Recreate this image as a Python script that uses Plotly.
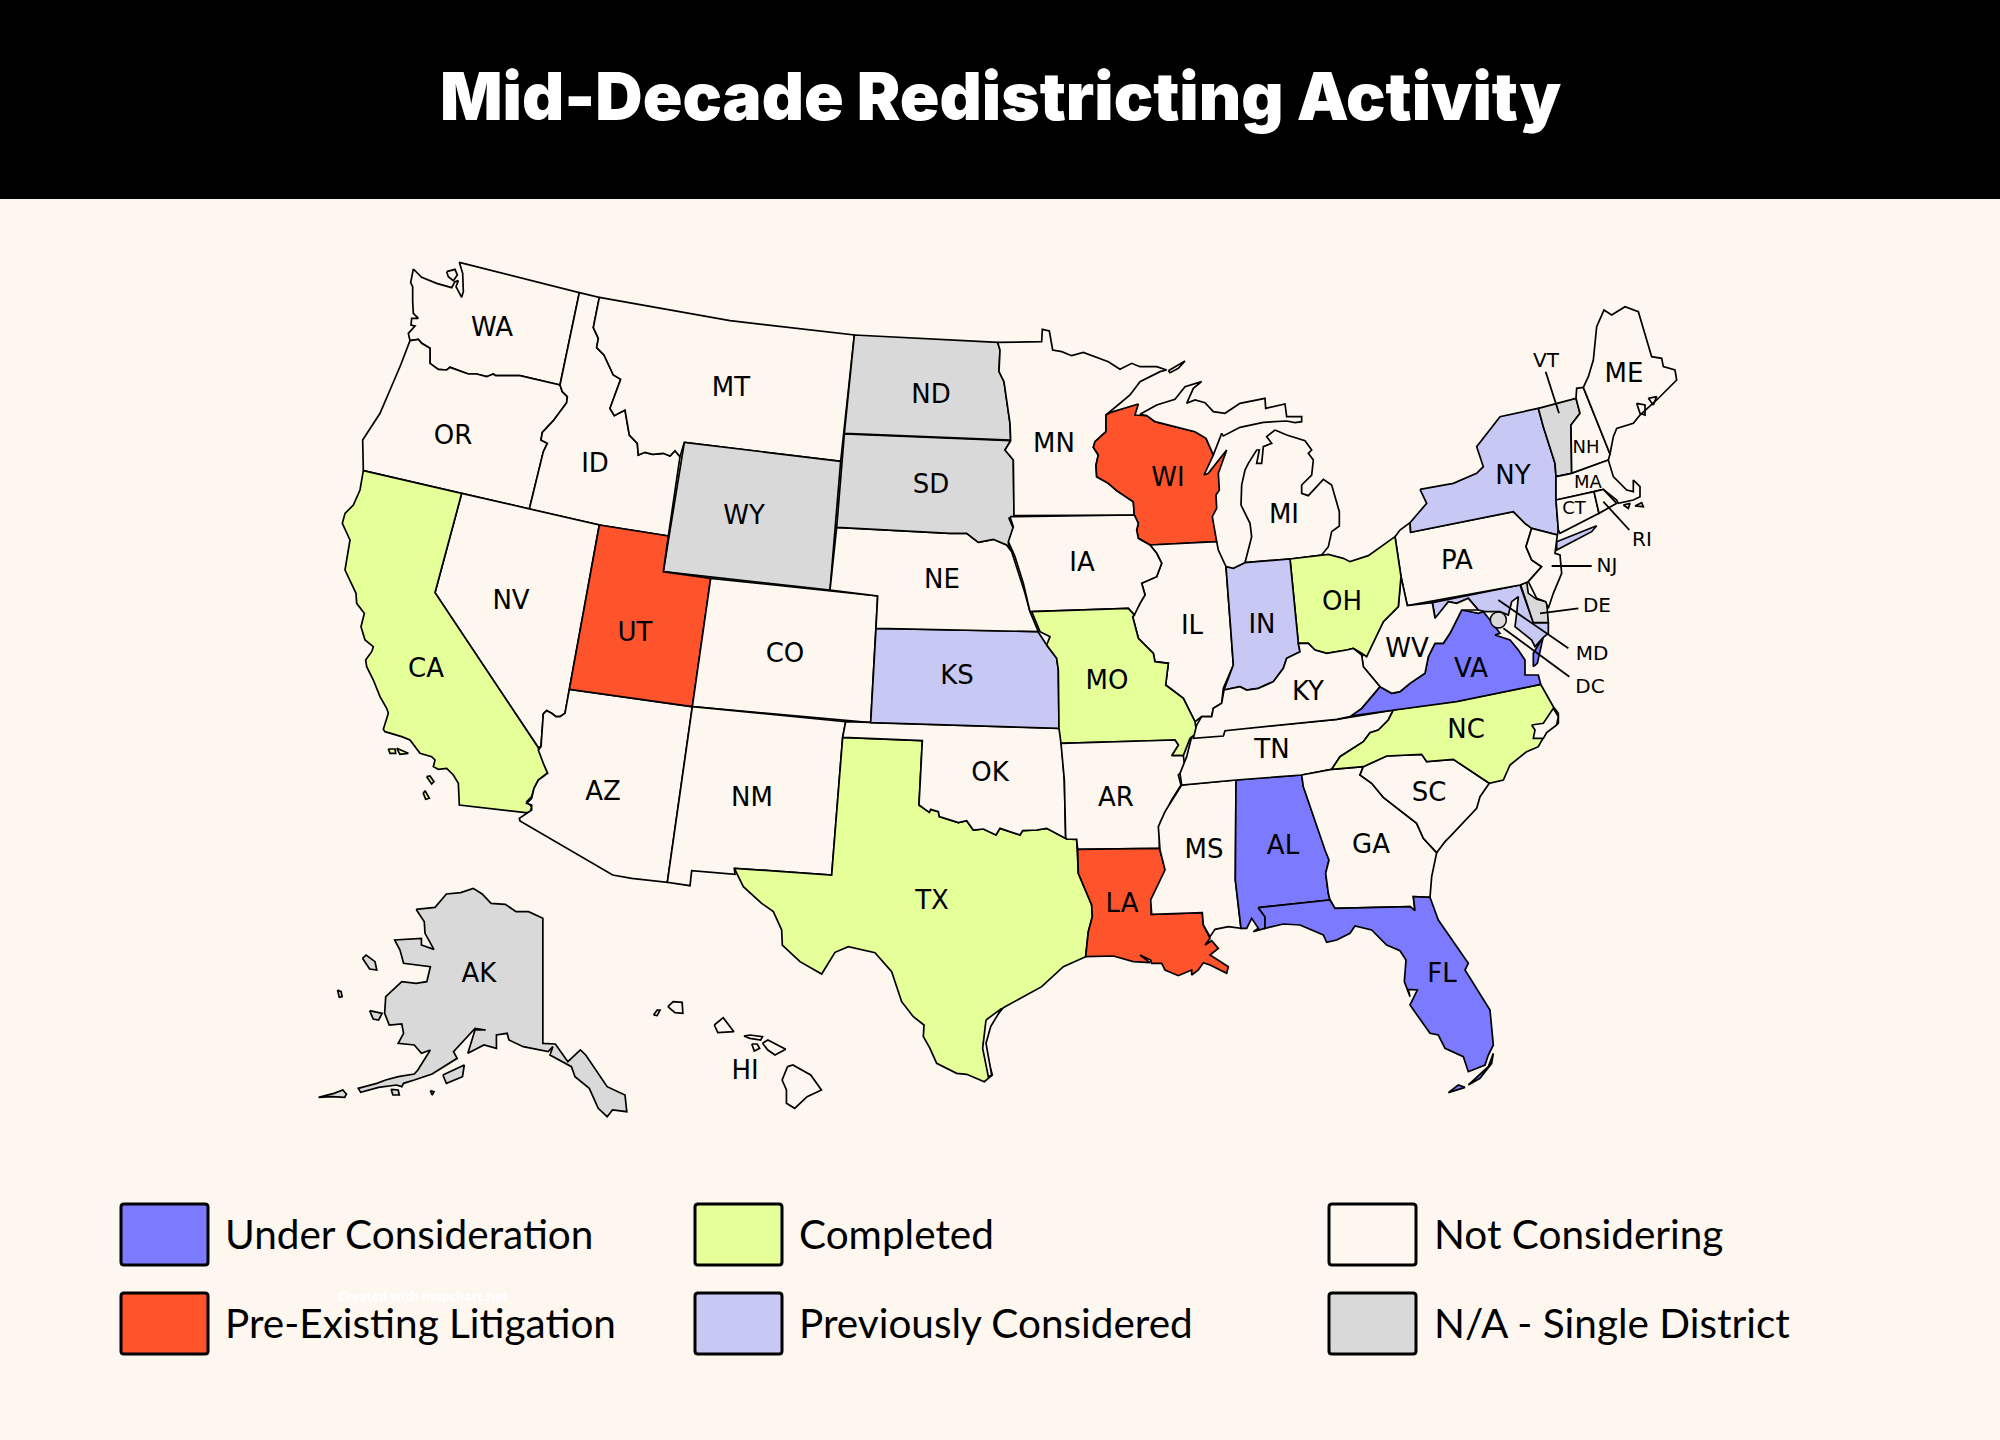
import plotly.graph_objects as go

# ---------- categories ----------
UNDER_CONSIDERATION = ["VA", "AL", "FL"]
PRE_EXISTING_LITIGATION = ["UT", "WI", "LA"]
COMPLETED = ["CA", "TX", "MO", "NC", "OH"]
PREVIOUSLY_CONSIDERED = ["NY", "IN", "KS", "MD"]
SINGLE_DISTRICT = ["WY", "ND", "SD", "VT", "AK", "DE"]

BG = "#FDF7EF"
LEGEND_LABELS = [["Under Consideration", "Pre-Existing Litigation"],
                 ["Completed", "Previously Considered"],
                 ["Not Considering", "N/A - Single District"]]
LEGEND_COLORS = [["#7C7AFF", "#FF542B"], ["#E5FF99", "#C8C8F5"], [BG, "#D9D9D9"]]
LEGEND_BOX_X = [121, 695, 1329]
LEGEND_TEXT_X = [223, 797, 1432]
LEGEND_ROW_Y = [1204, 1293]

COLOR_OF = {}
for names, col in [(UNDER_CONSIDERATION, "#7C7AFF"), (PRE_EXISTING_LITIGATION, "#FF542B"),
                   (COMPLETED, "#E5FF99"), (PREVIOUSLY_CONSIDERED, "#C8C8F5"),
                   (SINGLE_DISTRICT, "#D9D9D9")]:
    for n in names:
        COLOR_OF[n] = col

# ---------- outlines: (origin x, origin y, scale x, scale y) ----------
A = (330, 250, 3, 3); B = (330, 620, 3, 3); C = (700, 640, 3, 3); D = (1000, 320, 3, 3)
E = (1130, 680, 3, 3); F = (300, 870, 2.8, 3); G = (700, 320, 3, 3); H = (1400, 300, 3, 3)

WA = (A, [[(250,57),(275,82),(320,100),(365,113),(375,95),(385,92),(378,110),(395,142),(400,125),(398,70),(388,37),(748,128),(690,405),(570,377),(497,377),(490,372),(470,380),(440,372),(415,372),(360,352),(350,360),(325,358),(300,340),(300,295),(275,280),(265,268),(240,272),(235,250),(255,228),(243,225),(245,205),(265,205),(250,190),(248,155),(248,110),(242,98)],
          [(350,65),(375,58),(382,75),(370,92),(355,80)]])
OR = (A, [[(240,272),(265,268),(275,280),(300,295),(300,340),(325,358),(350,360),(360,352),(415,372),(440,372),(470,380),(490,372),(497,377),(570,377),(690,405),(697,425),(712,440),(710,458),(670,512),(637,547),(633,570),(652,580),(640,605),(598,777),(395,730),(100,662),(98,570),(150,490),(180,420),(212,345)]])
ID = (A, [[(748,128),(808,142),(790,233),(805,265),(800,293),(822,315),(850,375),(872,388),(840,475),(853,497),(885,480),(898,555),(922,580),(925,615),(945,607),(968,613),(1000,610),(1020,618),(1035,602),(1050,620),(1015,858),(808,825),(598,777),(640,605),(652,580),(633,570),(637,547),(670,512),(710,458),(712,440),(697,425),(690,405)]])
MT = (A, [[(808,142),(1200,212),(1573,255),(1532,634),(1063,577),(1050,620),(1035,602),(1020,618),(1000,610),(968,613),(945,607),(925,615),(922,580),(898,555),(885,480),(853,497),(840,475),(872,388),(850,375),(822,315),(800,293),(805,265),(790,233)]])
WY = (A, [[(1063,577),(1532,634),(1500,1020),(1000,965)]])
NV = (A, [[(395,730),(598,777),(808,825),(718,1318),(705,1390),(690,1400),(678,1400),(665,1390),(650,1382),(640,1392),(633,1490),(625,1493),(315,1028)]])
CA = (A, [[(100,662),(395,730),(315,1028),(625,1493),(628,1505),(640,1530),(653,1568),(625,1590),(612,1615),(605,1640),(590,1655),(605,1670),(600,1688),(587,1688),(388,1665),(385,1600),(370,1575),(350,1555),(325,1558),(310,1550),(315,1530),(305,1520),(270,1510),(240,1470),(215,1460),(190,1452),(165,1445),(160,1438),(175,1390),(170,1375),(150,1340),(130,1290),(110,1250),(107,1230),(125,1205),(130,1190),(105,1170),(93,1130),(103,1090),(80,1060),(78,1030),(45,960),(55,905),(60,870),(37,820),(45,790),(70,765),(90,720)],
          [(175,1497),(195,1497),(197,1510),(180,1510)],[(200,1495),(235,1510),(210,1513)],
          [(290,1580),(300,1578),(312,1595),(305,1602)],[(285,1622),(298,1645),(287,1648),(280,1630)]])
AZ = (B, [[(718,208),(1087,260),(1012,787),(905,775),(848,765),(570,603),(568,595),(583,585),(605,570),(605,555),(590,550),(605,535),(612,505),(625,480),(653,460),(640,430),(625,390),(633,380),(640,282),(650,272),(665,280),(678,290),(690,290),(705,280)]])
UT = (A, [[(808,825),(1015,858),(1000,965),(1142,985),(1087,1370),(718,1318)]])
CO = (A, [[(1142,985),(1643,1038),(1622,1418),(1087,1370)]])
NM = (B, [[(1087,260),(1547,305),(1538,352),(1505,765),(1213,745),(1215,763),(1085,752),(1080,797),(1012,787)]])
TX = (C, [[(428,292),(667,302),(657,495),(688,517),(692,508),(715,515),(718,530),(775,548),(800,542),(820,570),(850,567),(888,585),(900,565),(960,585),(968,572),(1010,570),(1040,565),(1100,597),(1130,598),(1135,700),(1175,795),(1177,830),(1165,875),(1157,950),(1090,980),(1025,1040),(910,1103),(870,1150),(850,1210),(877,1305),(853,1325),(800,1303),(770,1300),(710,1270),(690,1225),(670,1190),(672,1155),(640,1130),(605,1085),(575,995),(525,938),(445,920),(405,937),(365,1002),(300,965),(247,915),(245,870),(220,815),(185,790),(130,740),(103,685),(395,705)]])
TX_LAGOON = (C, [[(858,1140),(905,1105),(872,1160),(858,1210),(875,1305),(865,1310),(848,1225),(855,1170)]])
OK = (C, [[(437,245),(1080,265),(1085,315),(1093,420),(1097,592),(1100,597),(1040,565),(1010,570),(968,572),(960,585),(900,565),(888,585),(850,567),(820,570),(800,542),(775,548),(718,530),(715,515),(692,508),(688,517),(657,495),(667,302),(428,292)]])
KS = (C, [[(528,-35),(1014,-25),(1040,15),(1070,55),(1075,90),(1077,265),(512,248)]])
NE = (G, [[(410,622),(750,640),(800,640),(835,667),(880,658),(920,675),(935,695),(960,770),(975,820),(990,875),(1015,935),(528,925),(533,828),(390,810)]])
SD = (G, [[(433,342),(932,362),(915,390),(940,420),(942,590),(927,595),(940,625),(925,670),(937,695),(920,675),(880,658),(835,667),(800,640),(750,640),(410,622)]])
ND = (G, [[(463,45),(893,67),(900,90),(897,155),(912,185),(930,310),(932,360),(433,340)]])
MN = (D, [[(-7,67),(125,65),(127,28),(148,33),(158,90),(185,95),(215,107),(250,97),(325,125),(360,148),(395,130),(420,140),(470,140),(500,150),(480,155),(420,185),(390,225),(330,275),(318,285),(318,335),(285,365),(280,382),(295,405),(288,435),(290,470),(325,490),(350,512),(400,545),(403,585),(42,587),(40,420),(15,390),(32,362),(30,310),(12,185),(-3,155),(0,90)],
          [(505,152),(555,123),(535,145),(510,158)]])
WI = (D, [[(330,278),(415,252),(405,285),(440,287),(465,305),(585,335),(618,355),(640,405),(612,465),(625,460),(680,390),(655,460),(658,510),(648,525),(650,565),(637,590),(650,665),(450,675),(415,655),(410,630),(415,610),(403,585),(400,545),(350,512),(325,490),(290,470),(288,435),(295,405),(280,382),(285,365),(318,335),(318,285)]])
MI = (D, [[(420,283),(470,255),(525,238),(555,200),(605,185),(580,205),(560,250),(585,240),(615,248),(640,275),(675,280),(720,250),(795,235),(797,265),(855,252),(860,290),(905,290),(905,305),(885,308),(860,303),(790,307),(720,322),(670,348),(665,340),(640,405),(618,355),(585,335),(465,305),(440,287)],
          [(825,330),(860,345),(915,362),(935,390),(925,400),(940,420),(935,465),(905,495),(905,520),(925,527),(970,478),(995,495),(1018,575),(1018,618),(995,635),(985,680),(965,705),(870,717),(735,728),(755,650),(750,610),(723,555),(725,495),(735,450),(745,430),(770,390),(778,390),(770,430),(785,430),(790,380),(815,370),(800,350)]])
IL = (D, [[(450,675),(650,665),(655,690),(678,740),(692,925),(700,1035),(670,1105),(665,1150),(640,1165),(635,1190),(605,1190),(585,1205),(565,1165),(550,1135),(497,1095),(505,1030),(465,1025),(460,1000),(415,955),(398,890),(420,850),(435,825),(425,790),(470,770),(485,730),(470,700)]])
IA = (D, [[(30,590),(403,585),(415,610),(410,630),(415,655),(450,675),(470,700),(485,730),(470,770),(425,790),(435,825),(420,850),(403,885),(385,865),(90,875),(70,790),(45,710),(25,665),(40,620)]])
MO = (D, [[(95,875),(385,865),(403,885),(398,890),(415,955),(460,1000),(465,1025),(505,1030),(497,1095),(550,1135),(565,1165),(585,1205),(590,1240),(570,1255),(550,1307),(515,1307),(535,1275),(525,1260),(183,1270),(177,1225),(175,1050),(170,1015),(140,975),(150,950),(120,935)]])
AR = (C, [[(1083,310),(1425,300),(1435,315),(1415,347),(1450,347),(1455,385),(1435,405),(1443,435),(1415,480),(1380,550),(1378,625),(1133,628),(1130,598),(1100,597),(1097,592),(1093,420)]])
LA = (C, [[(1133,628),(1378,625),(1397,690),(1355,790),(1353,823),(1507,818),(1510,855),(1530,895),(1515,915),(1535,902),(1555,925),(1530,945),(1585,980),(1580,1000),(1530,975),(1510,968),(1495,990),(1475,1005),(1475,990),(1435,1007),(1395,990),(1385,970),(1355,970),(1352,960),(1320,945),(1350,968),(1300,965),(1240,948),(1157,950),(1165,875),(1177,830),(1175,795),(1135,700)]])
MS = (E, [[(155,315),(318,300),(316,600),(333,745),(295,740),(255,748),(240,770),(220,735),(217,698),(65,703),(62,660),(105,570),(90,510),(85,440),(105,395),(130,355)]])
AL = (E, [[(318,300),(515,285),(520,320),(585,510),(597,540),(587,580),(595,640),(600,660),(385,683),(405,710),(405,745),(370,755),(385,745),(365,715),(350,745),(333,745),(316,600)]])
TN = (E, [[(185,170),(280,165),(285,150),(620,118),(775,93),(790,90),(775,120),(745,150),(720,158),(700,185),(630,230),(605,268),(515,285),(318,300),(155,315),(150,280),(170,230)]])
GA = (E, [[(515,285),(605,268),(700,260),(690,285),(725,310),(760,352),(860,430),(880,475),(920,518),(905,590),(900,652),(850,650),(855,692),(840,680),(615,685),(600,660),(595,640),(587,580),(597,540),(585,510),(520,320)]])
FL = (E, [[(385,683),(600,660),(615,685),(840,680),(855,692),(850,650),(900,652),(925,720),(1015,850),(1005,870),(1080,990),(1090,1095),(1075,1125),(1065,1155),(1015,1175),(1000,1130),(945,1105),(925,1065),(900,1060),(840,975),(862,930),(835,928),(840,950),(823,905),(828,840),(810,812),(770,795),(725,750),(675,738),(660,760),(620,780),(590,787),(580,765),(510,735),(460,732),(405,745),(405,710)],
          [(955,1238),(985,1215),(1005,1222),(975,1232)],[(1015,1215),(1075,1160),(1090,1120),(1085,1150),(1050,1195)]])
SC = (E, [[(700,260),(770,228),(875,223),(890,245),(970,238),(1078,310),(1050,350),(1040,385),(960,470),(945,485),(920,518),(880,475),(860,430),(760,352),(725,310),(690,285)]])
NC = (E, [[(605,268),(630,230),(700,185),(720,158),(745,150),(775,120),(790,90),(1000,60),(1232,13),(1270,80),(1285,100),(1285,130),(1250,155),(1225,200),(1190,215),(1140,255),(1120,300),(1078,310),(970,238),(890,245),(875,223),(770,228),(700,260)]])
NC_SOUND = (E, [[(1205,135),(1240,130),(1270,85),(1285,110),(1280,135),(1250,158),(1240,175),(1210,175),(1215,150)]])
VA = (H, [[(422,1153),(170,1205),(-150,1248),(-115,1225),(-60,1160),(-25,1180),(0,1175),(30,1150),(75,1120),(85,1070),(105,1030),(130,1030),(150,1000),(185,930),(235,940),(250,935),(270,960),(300,1000),(285,1005),(330,1020),(355,1050),(375,1080),(375,1125),(415,1125)],
          [(400,1100),(400,1060),(430,1010),(412,1090)]])
MD = (H, [[(97,908),(360,855),(400,968),(445,968),(445,1000),(430,1012),(405,1040),(395,1020),(370,1000),(345,980),(350,940),(355,890),(335,905),(325,945),(300,935),(255,935),(235,930),(205,895),(170,910),(145,905),(110,955),(105,950)]])
DE = (H, [[(362,855),(380,845),(385,880),(410,898),(440,905),(445,968),(400,968)]])
PA = (H, [[(-15,710),(0,690),(30,668),(32,697),(340,635),(375,670),(395,685),(378,740),(395,780),(425,800),(385,845),(360,855),(22,917),(3,830)]])
NY = (H, [[(60,568),(160,550),(230,520),(250,500),(230,440),(300,350),(415,325),(430,380),(465,490),(468,530),(468,600),(475,690),(472,705),(395,685),(375,670),(340,635),(32,697),(30,668),(80,610)],
          [(470,725),(590,677),(575,695),(470,750)]])
VT = (H, [[(415,325),(528,295),(540,340),(513,375),(515,520),(468,530),(465,490),(430,380)]])
NH = (H, [[(528,295),(530,265),(550,262),(630,462),(625,480),(515,520),(513,375),(540,340)]])
ME = (H, [[(550,262),(565,230),(580,180),(590,80),(612,30),(635,45),(675,20),(715,35),(755,170),(785,175),(790,200),(825,210),(830,240),(770,300),(720,345),(700,370),(650,385),(640,410),(630,462)],
          [(710,310),(735,315),(735,345),(720,340)],[(745,295),(770,290),(760,315)]])
MA = (H, [[(468,530),(515,520),(625,480),(640,530),(680,570),(700,575),(700,540),(720,560),(720,590),(700,600),(655,610),(650,600),(610,568),(468,600)],
          [(670,615),(690,610),(685,625)],[(705,618),(725,608),(730,620)]])
CT = (H, [[(468,600),(582,575),(597,640),(480,700),(475,690)]])
RI = (H, [[(582,575),(610,568),(650,610),(597,640)]])
NJ = (H, [[(395,685),(472,705),(465,760),(480,765),(485,820),(460,880),(445,925),(437,905),(410,895),(385,845),(425,800),(395,780),(378,740)]])
WV = (H, [[(3,830),(22,917),(97,908),(105,955),(145,905),(170,910),(205,895),(235,930),(185,930),(150,1000),(130,1030),(105,1030),(85,1070),(75,1120),(30,1150),(0,1175),(-25,1180),(-60,1160),(-110,1100),(-115,1070),(-90,1045),(-70,1005),(-50,965),(-5,920),(0,860)]])
OH = (D, [[(870,717),(965,705),(985,703),(1030,715),(1050,725),(1105,707),(1185,650),(1203,770),(1200,800),(1195,860),(1150,905),(1130,945),(1110,985),(1100,1010),(1085,1000),(1060,985),(1040,990),(980,1000),(945,990),(925,970),(895,970)]])
IN = (D, [[(678,740),(700,745),(735,728),(870,717),(895,970),(900,995),(860,1015),(850,1045),(820,1085),(775,1105),(740,1110),(720,1100),(672,1110),(700,1035),(692,925)]])
KY = (D, [[(672,1110),(720,1100),(740,1110),(775,1105),(820,1085),(850,1045),(860,1015),(900,995),(895,970),(925,970),(945,990),(980,1000),(1040,990),(1060,985),(1085,1005),(1090,1040),(1140,1100),(1085,1165),(1050,1190),(1010,1198),(675,1232),(670,1248),(580,1255),(590,1215),(605,1190),(635,1190),(640,1165),(665,1150)]])
AK = (F, [[(325,118),(378,112),(410,72),(450,68),(485,55),(510,72),(535,100),(575,103),(605,125),(640,125),(680,145),(680,520),(715,522),(750,575),(785,540),(800,555),(860,650),(910,675),(915,725),(875,720),(860,740),(835,715),(810,655),(770,620),(760,590),(700,555),(708,530),(695,545),(625,530),(585,510),(580,490),(550,495),(550,535),(515,525),(470,550),(490,480),(520,480),(490,475),(460,510),(430,545),(440,565),(370,612),(320,630),(290,640),(285,650),(270,645),(220,652),(170,667),(163,655),(215,640),(240,630),(275,620),(320,612),(330,600),(365,540),(340,550),(320,525),(275,520),(290,490),(285,462),(250,465),(237,430),(240,380),(285,335),(325,340),(355,335),(365,290),(290,280),(280,240),(265,210),(340,205),(340,225),(375,238),(350,190),(348,155)],
          [(52,682),(95,670),(120,660),(130,672),(125,682),(90,680)],[(195,422),(230,430),(220,450),(205,447)],
          [(175,265),(185,255),(210,275),(215,300),(195,297)],[(105,360),(115,365),(118,380),(110,382)],
          [(400,615),(460,585),(455,620),(410,640)],[(365,662),(375,665),(370,675)],[(255,658),(275,660),(278,675),(260,675)]])
HI = (F, [[(1030,410),(1045,395),(1070,397),(1072,430),(1050,428)],[(990,435),(1000,420),(1008,420),(1000,437)],
          [(1160,465),(1185,443),(1215,485),(1170,488)],[(1243,498),(1260,495),(1295,500),(1290,510),(1260,505)],
          [(1265,522),(1280,522),(1287,535),(1272,543)],[(1295,520),(1310,510),(1360,538),(1330,555),(1310,540)],
          [(1365,590),(1380,585),(1430,615),(1460,660),(1420,680),(1385,715),(1362,700),(1362,660),(1350,630)]])

STATE_SHAPES = {"WA":WA,"OR":OR,"ID":ID,"MT":MT,"WY":WY,"NV":NV,"CA":CA,"AZ":AZ,"UT":UT,"CO":CO,"NM":NM,"TX":TX,"OK":OK,"KS":KS,
    "NE":NE,"SD":SD,"ND":ND,"MN":MN,"WI":WI,"MI":MI,"IL":IL,"IA":IA,"MO":MO,"AR":AR,"LA":LA,"MS":MS,"AL":AL,"TN":TN,"GA":GA,"FL":FL,
    "SC":SC,"NC":NC,"VA":VA,"MD":MD,"DE":DE,"PA":PA,"NY":NY,"VT":VT,"NH":NH,"ME":ME,"MA":MA,"CT":CT,"RI":RI,"NJ":NJ,"WV":WV,"OH":OH,
    "IN":IN,"KY":KY,"AK":AK,"HI":HI}

# ---------- state labels (reference pixels) ----------
LABEL_NAMES = ["WA","OR","CA","NV","ID","MT","WY","UT","AZ","CO","NM","ND","SD","NE","KS","OK","TX","MN","IA","MO","AR","LA","WI","IL","MI","IN","OH","KY","TN","MS","AL","GA","FL","SC","NC","VA","WV","PA","NY","ME","AK","HI"]
LABEL_X = [492,453,426,511,595,731,744,635,603,785,752,931,931,942,957,990,932,1054,1082,1107,1116,1122,1168,1192,1284,1262,1342,1308,1272,1204,1283,1371,1442,1429,1466,1471,1407,1457,1513,1624,479,745]
LABEL_Y = [327,435,668,600,463,387,515,632,791,653,797,394,484,579,675,772,900,443,562,680,797,903,477,625,514,624,601,691,749,849,845,844,973,792,729,668,648,560,475,373,973,1070]
SMALL_NAMES = ["NH","MA","CT"]
SMALL_X = [1586,1588,1574]
SMALL_Y = [446,481,507]
OUTER_NAMES = ["VT","RI","NJ","DE","MD","DC"]
OUTER_X = [1546,1642,1607,1597,1592,1590]
OUTER_Y = [359,538,564,604,652,685]
LABEL_DY = 2.5  # baseline correction for the label font
# leader lines (crop H units)
LEADERS = [[(437,215),(477,340)],[(610,605),(688,690)],[(455,798),(575,798)],[(420,940),(535,925)],[(295,900),(505,1045)],[(310,985),(508,1130)]]
DC_POINT = (295, 960)

TITLE = "Mid-Decade Redistricting Activity"
WATERMARK = "Created with mapchart.net"


def to_px(shape):
    (ox, oy, sx, sy), rings = shape
    xs, ys = [], []
    for ring in rings:
        for x, y in ring + ring[:1]:
            xs.append(ox + x / sx); ys.append(oy + y / sy)
        xs.append(None); ys.append(None)
    return xs, ys


fig = go.Figure()
LW = 1.7


def add_poly(shape, fill, name):
    xs, ys = to_px(shape)
    fig.add_trace(go.Scatter(x=xs, y=ys, mode="lines", fill="toself", fillcolor=fill,
                             line=dict(color="#000000", width=LW), name=name, hoverinfo="name"))


for name, shape in STATE_SHAPES.items():
    add_poly(shape, COLOR_OF.get(name, BG), name)
add_poly(TX_LAGOON, BG, "TX coast")
add_poly(NC_SOUND, BG, "NC coast")

# leader lines
lx, ly = [], []
for seg in LEADERS:
    for x, y in seg:
        lx.append(H[0] + x / H[2]); ly.append(H[1] + y / H[3])
    lx.append(None); ly.append(None)
fig.add_trace(go.Scatter(x=lx, y=ly, mode="lines", line=dict(color="#000000", width=1.8), hoverinfo="skip"))
fig.add_trace(go.Scatter(x=[H[0] + DC_POINT[0] / H[2]], y=[H[1] + DC_POINT[1] / H[3]], mode="markers",
                         marker=dict(size=16, color="#D9D9D9", line=dict(color="#000000", width=1.5)), name="DC", hoverinfo="name"))

LABEL_FONT = "DejaVu Sans"
for xs, ys, names, size in [(LABEL_X, LABEL_Y, LABEL_NAMES, 26), (SMALL_X, SMALL_Y, SMALL_NAMES, 18), (OUTER_X, OUTER_Y, OUTER_NAMES, 20)]:
    fig.add_trace(go.Scatter(x=xs, y=[v + LABEL_DY for v in ys], text=names, mode="text", textposition="middle center",
                             textfont=dict(family=LABEL_FONT, size=size, color="#000000"), hoverinfo="skip"))

# header
shapes = [dict(type="rect", x0=0, x1=2000, y0=0, y1=199, fillcolor="#000000", line_width=0, layer="below")]
annotations = [dict(x=1001, y=96, text=TITLE, showarrow=False, xanchor="center", yanchor="middle",
                    font=dict(family="Inter", size=65.5, color="#FFFFFF", weight=900)),
               dict(x=423, y=1296, text=WATERMARK, showarrow=False, font=dict(family="Open Sans", size=12.5, color="#FFFFFF", weight=700))]

# legend
for cx, tx, labels, colors in zip(LEGEND_BOX_X, LEGEND_TEXT_X, LEGEND_LABELS, LEGEND_COLORS):
    for ry, lab, col in zip(LEGEND_ROW_Y, labels, colors):
        x0, x1, y0, y1 = cx, cx + 87, ry, ry + 61
        r = 3
        path = (f"M{x0+r},{y0} L{x1-r},{y0} Q{x1},{y0} {x1},{y0+r} L{x1},{y1-r} Q{x1},{y1} {x1-r},{y1} "
                f"L{x0+r},{y1} Q{x0},{y1} {x0},{y1-r} L{x0},{y0+r} Q{x0},{y0} {x0+r},{y0} Z")
        shapes.append(dict(type="path", path=path, fillcolor=col, line=dict(color="#000000", width=3)))
        annotations.append(dict(x=tx, y=ry + 29, text=lab, showarrow=False, xanchor="left", yanchor="middle",
                                font=dict(family="Lato", size=40.5, color="#000000")))

fig.update_layout(width=2000, height=1440, margin=dict(l=0, r=0, t=0, b=0), showlegend=False,
                  paper_bgcolor=BG, plot_bgcolor=BG, shapes=shapes, annotations=annotations,
                  xaxis=dict(range=[0, 2000], visible=False, fixedrange=True),
                  yaxis=dict(range=[1440, 0], visible=False, fixedrange=True),
                  hovermode="closest")
fig.write_html("out.html", post_script="document.body.style.margin='0';", config={"displayModeBar": False})
